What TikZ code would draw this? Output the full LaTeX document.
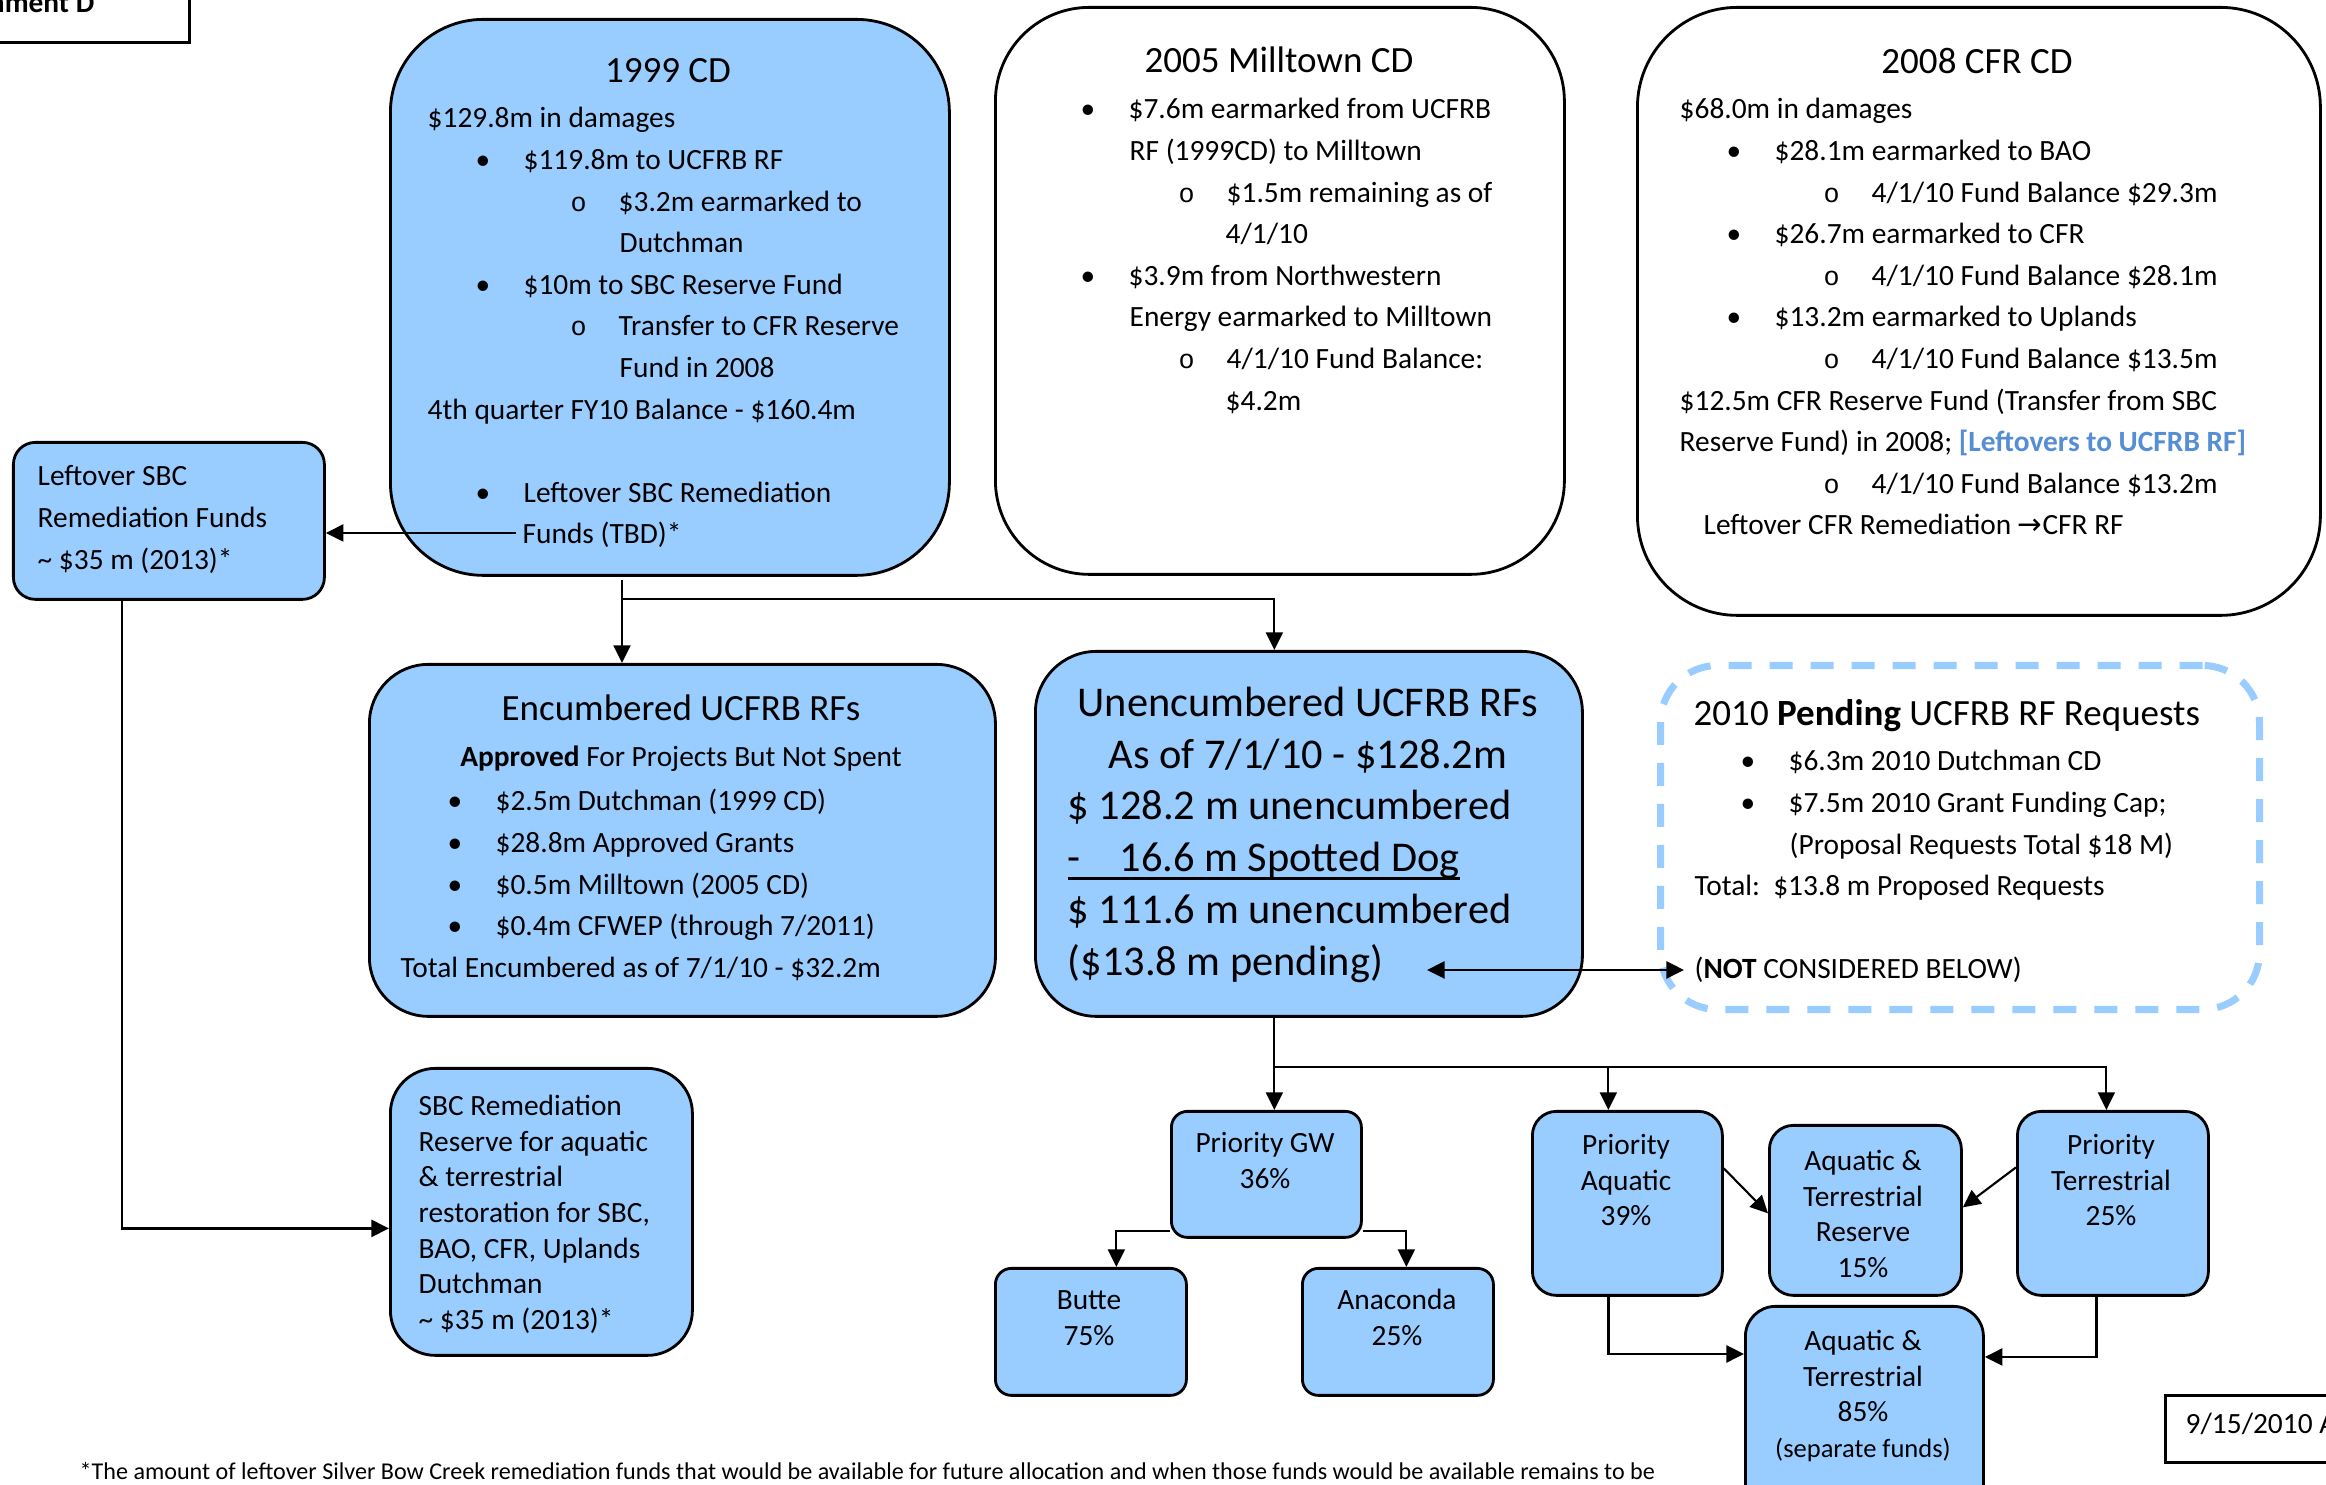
\documentclass[tikz,border=0pt]{standalone}
\usepackage{fontspec}
\setmainfont{Carlito}
\newfontfamily\monofont{Liberation Mono}
\newfontfamily\symfont{DejaVu Sans}
\usetikzlibrary{calc,arrows.meta}

\definecolor{boxblue}{RGB}{153,204,255}
\definecolor{linkblue}{RGB}{85,142,213}

\newcommand\bodyfont{\fontsize{8.36}{11.84}\selectfont}
\newcommand\smallboxfont{\fontsize{8.36}{10.13}\selectfont}
\newcommand\titlefont{\fontsize{10.53}{12.6}\selectfont}
\newcommand\bigfont{\fontsize{12.06}{14.8}\selectfont}
\newcommand\notefont{\fontsize{6.86}{8}\selectfont}

\newcommand\bul[2]{\hspace*{#1}\makebox[4.1mm][l]{\kern-0.7mm\textbullet}#2}
\newcommand\sbl[2]{\hspace*{#1}\makebox[3.9mm][l]{\kern-0.9mm{\monofont\fontsize{7.6}{8}\selectfont o}}#2}
\newcommand\ind[2]{\hspace*{#1}#2}
\newcommand\uline[1]{\setbox0\hbox{#1}\rlap{\rule[-2.6pt]{\wd0}{0.9pt}}\box0}

\tikzset{
	fundbox/.style={draw, line width=0.8pt, fill=boxblue, anchor=north west, inner sep=0pt},
	cdbox/.style={draw, line width=0.8pt, fill=white, anchor=north west, inner sep=0pt},
	pendbox/.style={draw=boxblue, line width=2pt, dash pattern=on 0.23cm off 0.18cm, fill=white, anchor=north west, inner sep=0pt},
	bodytext/.style={font=\bodyfont, align=left, anchor=north west, inner sep=0pt},
	boxtext/.style={font=\smallboxfont, align=center, anchor=north, inner sep=0pt},
	headtext/.style={font=\titlefont, anchor=base, inner sep=0pt},
	arr/.style={line width=0.6pt, -{Triangle[width=4.8pt,length=5pt]}},
	dblarr/.style={line width=0.8pt, {Triangle[width=4.8pt,length=5pt]}-{Triangle[width=4.8pt,length=5pt]}},
}

\begin{document}
\begin{tikzpicture}
			%%%%% START %%%%%
			\useasboundingbox (0,0) rectangle (23.26,14.85);
			\fill[white] (0,0) rectangle (23.26,14.85);
			
			% boxes
			\node[cdbox, anchor=south east, minimum width=3cm, minimum height=1cm] (att) at (1.91,14.41) {};
			\node[fundbox, minimum width=5.59cm, minimum height=5.56cm, rounded corners=0.93cm] (cd99) at (3.89,14.67) {};
			\node[cdbox, minimum width=5.69cm, minimum height=5.67cm, rounded corners=0.94cm] (cd05) at (9.94,14.79) {};
			\node[cdbox, minimum width=6.83cm, minimum height=6.08cm, rounded corners=1.0cm] (cd08) at (16.36,14.79) {};
			\node[fundbox, minimum width=3.11cm, minimum height=1.57cm, rounded corners=0.22cm] (left) at (0.12,10.44) {};
			\node[fundbox, minimum width=6.26cm, minimum height=3.52cm, rounded corners=0.59cm] (enc) at (3.68,8.22) {};
			\node[fundbox, minimum width=5.47cm, minimum height=3.65cm, rounded corners=0.61cm] (unenc) at (10.34,8.35) {};
			\node[pendbox, minimum width=5.99cm, minimum height=3.44cm, rounded corners=0.57cm] (pend) at (16.57,8.23) {};
			\node[fundbox, minimum width=3.02cm, minimum height=2.87cm, rounded corners=0.45cm] (res) at (3.89,4.18) {};
			
			\node[fundbox, minimum width=1.90cm, minimum height=1.26cm, rounded corners=0.16cm] (gw) at (11.70,3.75) {};
			\node[fundbox, minimum width=1.91cm, minimum height=1.27cm, rounded corners=0.16cm] (butte) at (9.94,2.18) {};
			\node[fundbox, minimum width=1.91cm, minimum height=1.27cm, rounded corners=0.16cm] (ana) at (13.01,2.18) {};
			\node[fundbox, minimum width=1.90cm, minimum height=1.84cm, rounded corners=0.24cm] (paq) at (15.31,3.75) {};
			\node[fundbox, minimum width=1.92cm, minimum height=1.70cm, rounded corners=0.24cm] (atr) at (17.68,3.61) {};
			\node[fundbox, minimum width=1.91cm, minimum height=1.84cm, rounded corners=0.24cm] (pter) at (20.16,3.75) {};
			\node[fundbox, minimum width=2.38cm, minimum height=2.2cm, rounded corners=0.3cm] (at85) at (17.44,1.80) {};
			\node[cdbox, minimum width=2cm, minimum height=0.67cm] (date) at (21.64,0.91) {};
			
			% connectors
			\coordinate (tbd) at (5.16,9.52);
			\draw[arr, line width=0.8pt] (tbd) -- (tbd -| left.east);
			\draw[arr, line width=0.8pt] ([xshift=1.10cm]left.south west) |- ([yshift=-0.165cm]res.west);
			
			\coordinate (s99) at (6.22,9.05);
			\coordinate (s99r) at (6.22,8.86);
			\draw[arr] (s99) -- (s99 |- enc.north);
			\draw[arr] (s99r) -| ([xshift=-0.345cm]unenc.north);
			
			\coordinate (sdn) at ([xshift=-0.345cm]unenc.south);
			\coordinate (hub) at (12.73,4.18);
			\coordinate (paqin) at ([xshift=-0.19cm]paq.north);
			\coordinate (pterin) at ([xshift=-0.065cm]pter.north);
			\draw[arr] (sdn) -- (sdn |- gw.north);
			\draw[arr] (hub) -| (pterin);
			\draw[arr] (paqin |- hub) -- (paqin);
			
			\draw[arr] ([yshift=0.08cm]gw.south west) -| ([xshift=0.255cm]butte.north);
			\draw[arr] ([yshift=0.08cm]gw.south east) -| ([xshift=0.085cm]ana.north);
			
			\draw[arr] ([yshift=0.35cm]paq.east) -- ([yshift=-0.03cm]atr.west);
			\draw[arr] ([yshift=0.36cm]pter.west) -- ([yshift=0.03cm]atr.east);
			\draw[arr, line width=0.8pt] ([xshift=-0.19cm]paq.south) |- ([yshift=-0.49cm]at85.north west);
			\draw[arr, line width=0.8pt] ([xshift=-0.165cm]pter.south) |- ([yshift=-0.52cm]at85.north east);
			
			\coordinate (pendL) at (14.27,5.15);
			\coordinate (pendR) at (16.84,5.15);
			\draw[dblarr] (pendL) -- (pendR);
			
			% texts
			\node[font=\bodyfont\bfseries, anchor=base east, inner sep=0pt] (atttxt) at (0.95,14.72) {Attachment D};
			
			\node[headtext] (cd99hd) at (6.68,14.02) {1999 CD};
			\node[bodytext] (cd99txt) at (4.27,13.87) {\strut\$129.8m in damages\\
				\bul{0.55cm}{\$119.8m to UCFRB RF}\\
				\sbl{1.52cm}{\$3.2m earmarked to}\\
				\ind{1.92cm}{Dutchman}\\
				\bul{0.55cm}{\$10m to SBC Reserve Fund}\\
				\sbl{1.52cm}{Transfer to CFR Reserve}\\
				\ind{1.92cm}{Fund in 2008}\\
				4th quarter FY10 Balance - \$160.4m\\
				\mbox{}\\
				\bul{0.55cm}{Leftover SBC Remediation}\\
				\ind{0.95cm}{Funds (TBD)*}};
			
			\node[headtext] (cd05hd) at (12.79,14.12) {2005 Milltown CD};
			\node[bodytext] (cd05txt) at (10.87,13.96) {\strut\bul{0cm}{\$7.6m earmarked from UCFRB}\\
				\ind{0.42cm}{RF (1999CD) to Milltown}\\
				\sbl{1.00cm}{\$1.5m remaining as of}\\
				\ind{1.38cm}{4/1/10}\\
				\bul{0cm}{\$3.9m from Northwestern}\\
				\ind{0.42cm}{Energy earmarked to Milltown}\\
				\sbl{1.00cm}{4/1/10 Fund Balance:}\\
				\ind{1.38cm}{\$4.2m}};
			
			\node[headtext] (cd08hd) at (19.77,14.11) {2008 CFR CD};
			\node[bodytext] (cd08txt) at (16.79,13.96) {\strut\$68.0m in damages\\
				\bul{0.54cm}{\$28.1m earmarked to BAO}\\
				\sbl{1.53cm}{4/1/10 Fund Balance \$29.3m}\\
				\bul{0.54cm}{\$26.7m earmarked to CFR}\\
				\sbl{1.53cm}{4/1/10 Fund Balance \$28.1m}\\
				\bul{0.54cm}{\$13.2m earmarked to Uplands}\\
				\sbl{1.53cm}{4/1/10 Fund Balance \$13.5m}\\
				\$12.5m CFR Reserve Fund (Transfer from SBC\\
				Reserve Fund) in 2008; {\color{linkblue}\bfseries [Leftovers to UCFRB RF]}\\
				\sbl{1.53cm}{4/1/10 Fund Balance \$13.2m}\\
				\ind{0.24cm}{Leftover CFR Remediation {\symfont →}CFR RF}};
			
			\node[bodytext] (lefttxt) at (0.37,10.29) {\strut Leftover SBC\\Remediation Funds\\\textasciitilde\ \$35 m (2013)*};
			
			\node[headtext] (enchd) at (6.81,7.64) {Encumbered UCFRB RFs};
			\node[font=\bodyfont, anchor=base, inner sep=0pt] (encsub) at (6.81,7.18) {\textbf{Approved} For Projects But Not Spent};
			\node[bodytext] (enctxt) at (4.00,7.04) {\strut\bul{0.54cm}{\$2.5m Dutchman (1999 CD)}\\
				\bul{0.54cm}{\$28.8m Approved Grants}\\
				\bul{0.54cm}{\$0.5m Milltown (2005 CD)}\\
				\bul{0.54cm}{\$0.4m CFWEP (through 7/2011)}\\
				Total Encumbered as of 7/1/10 - \$32.2m};
			
			\node[font=\bigfont, align=center, anchor=north, inner sep=0pt] (unenchd) at (13.08,8.06) {\strut Unencumbered UCFRB RFs\\As of 7/1/10 - \$128.2m};
			\node[font=\bigfont, align=left, anchor=north west, inner sep=0pt] (unenctxt) at (10.67,7.03) {\strut\$ 128.2 m unencumbered\\
				\uline{\makebox[5.2mm][l]{-}16.6 m Spotted Dog}\\
				\$ 111.6 m unencumbered\\
				(\$13.8 m pending)};
			
			\node[headtext, anchor=base west] (pendhd) at (16.93,7.59) {2010 \textbf{Pending} UCFRB RF Requests};
			\node[bodytext] (pendtxt) at (16.94,7.44) {\strut\bul{0.53cm}{\$6.3m 2010 Dutchman CD}\\
				\bul{0.53cm}{\$7.5m 2010 Grant Funding Cap;}\\
				\ind{0.95cm}{(Proposal Requests Total \$18 M)}\\
				Total:\ \ \$13.8 m Proposed Requests\\
				\mbox{}\\
				(\textbf{NOT} CONSIDERED BELOW)};
			
			\node[bodytext, font=\smallboxfont] (restxt) at (4.18,3.95) {\strut SBC Remediation\\Reserve for aquatic\\\& terrestrial\\restoration for SBC,\\BAO, CFR, Uplands\\Dutchman\\\textasciitilde\ \$35 m (2013)*};
			
			\node[boxtext] (gwtxt) at (12.65,3.58) {\strut Priority GW\\36\%};
			\node[boxtext] (buttetxt) at (10.89,2.01) {\strut Butte\\75\%};
			\node[boxtext] (anatxt) at (13.97,2.01) {\strut Anaconda\\25\%};
			\node[boxtext] (paqtxt) at (16.26,3.56) {\strut Priority\\Aquatic\\39\%};
			\node[boxtext] (atrtxt) at (18.63,3.40) {\strut Aquatic \&\\Terrestrial\\Reserve\\15\%};
			\node[boxtext] (ptertxt) at (21.11,3.56) {\strut Priority\\Terrestrial\\25\%};
			\node[boxtext] (at85txt) at (18.63,1.60) {\strut Aquatic \&\\Terrestrial\\85\%\\{\fontsize{7.55}{10.13}\selectfont (separate funds)}};
			
			\node[font=\bodyfont, anchor=base west, inner sep=0pt] (datetxt) at (21.85,0.51) {9/15/2010 A};
			\node[font=\notefont, anchor=base west, inner sep=0pt] (note) at (0.79,0.05) {*The amount of leftover Silver Bow Creek remediation funds that would be available for future allocation and when those funds would be available remains to be};
			%%%%% END %%%%%
\end{tikzpicture}
\end{document}
